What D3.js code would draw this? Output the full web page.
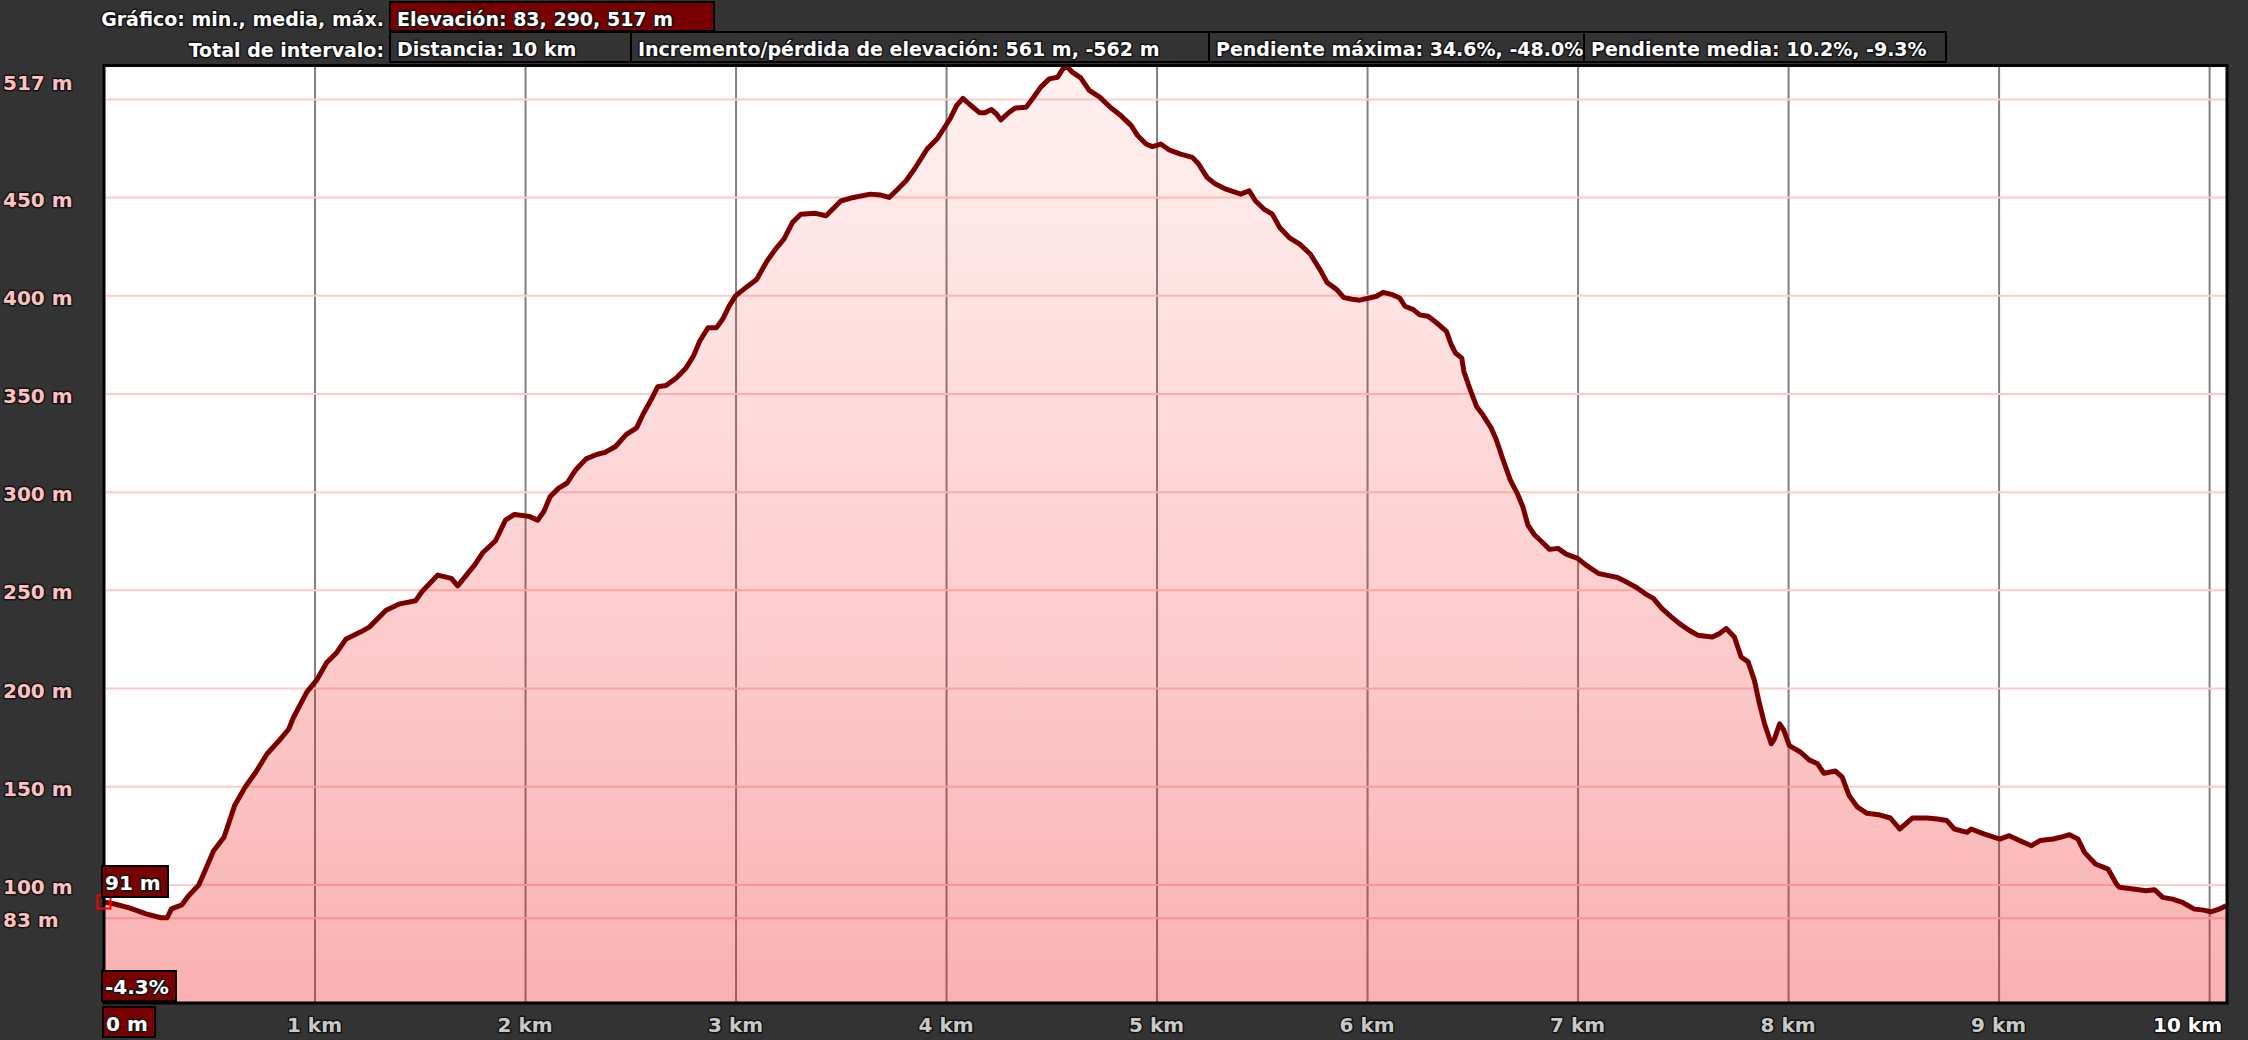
<!DOCTYPE html>
<html>
<head>
<meta charset="utf-8">
<script src="https://cdn.jsdelivr.net/npm/d3@7/dist/d3.min.js"></script>
<style>
  html, body { margin: 0; padding: 0; background: #333333; }
  svg { display: block; }
  text { font-family: "DejaVu Sans", Verdana, sans-serif; font-weight: bold; }
  .outlined { paint-order: stroke; stroke: #141414; stroke-width: 3px; stroke-linejoin: round; }
</style>
</head>
<body>
<svg id="chart" width="2248" height="1040"></svg>
<script>
// ---------- data ----------
const distanceKm = [
  0.00,0.05,0.12,0.20,0.27,0.30,0.32,0.37,0.40,0.45,0.48,0.52,0.57,0.62,0.67,0.72,0.775,0.83,0.877,0.90,
  0.964,1.01,1.058,1.105,1.15,1.22,1.26,1.34,1.40,1.48,1.51,1.585,1.65,1.68,1.76,1.80,1.86,1.907,1.95,2.02,
  2.06,2.09,2.12,2.16,2.20,2.24,2.29,2.34,2.38,2.43,2.48,2.53,2.56,2.60,2.63,2.67,2.72,2.765,2.80,2.83,
  2.87,2.91,2.94,2.97,3.00,3.05,3.10,3.15,3.19,3.23,3.27,3.31,3.38,3.43,3.50,3.56,3.64,3.69,3.73,3.77,
  3.81,3.85,3.91,3.96,4.02,4.05,4.08,4.11,4.16,4.185,4.215,4.24,4.26,4.30,4.33,4.38,4.41,4.45,4.49,4.53,
  4.55,4.57,4.60,4.64,4.68,4.73,4.78,4.83,4.88,4.91,4.95,4.98,5.02,5.06,5.11,5.17,5.20,5.24,5.28,5.33,
  5.40,5.44,5.47,5.51,5.55,5.585,5.63,5.68,5.73,5.78,5.81,5.855,5.89,5.93,5.965,6.01,6.045,6.076,6.12,6.155,
  6.18,6.22,6.25,6.29,6.33,6.377,6.40,6.42,6.45,6.46,6.49,6.52,6.55,6.59,6.614,6.646,6.68,6.717,6.74,6.764,
  6.796,6.83,6.867,6.907,6.946,7.00,7.04,7.10,7.136,7.19,7.23,7.28,7.32,7.36,7.40,7.445,7.484,7.53,7.57,7.64,
  7.674,7.706,7.745,7.777,7.81,7.84,7.864,7.888,7.92,7.935,7.96,7.98,8.006,8.06,8.10,8.14,8.17,8.225,8.257,8.29,
  8.33,8.375,8.43,8.486,8.53,8.59,8.66,8.71,8.754,8.79,8.85,8.87,8.93,9.006,9.05,9.10,9.156,9.196,9.26,9.306,
  9.337,9.377,9.408,9.46,9.52,9.56,9.574,9.64,9.70,9.74,9.78,9.826,9.874,9.93,9.976,10.008,10.047,10.08
];
const elevationM = [
  91,90,88,85,83,83,87.5,89.6,94,99.7,107,117,124,140,149.5,157,166.5,173,179,185,
  198,204,213,218,225,228.6,231,239.6,242.7,244.4,249,257.5,255.8,252,262.6,269,275,285.5,288.4,287.4,
  285.4,290,297.6,301.8,304.4,311,316.7,318.9,320,323,329,332.5,339.3,347,353.4,354,358,363,369,376.7,
  383.5,383.5,388,394.6,399.7,404,408,417.5,423.5,428.6,437,441.3,441.7,440.5,448,449.8,451.5,451,449.8,454,
  458.3,464.3,474.5,480,490,496.6,500.3,497.4,492.9,492.9,494.6,492.3,489.3,493.2,495.4,495.7,500,506,510.2,511,
  514.5,517,513.6,510.7,504.3,500.9,495.7,491.5,486.4,481.3,477,475.7,477,474,472,470.2,466.8,460,456.6,454,
  451.5,453.2,448,443.9,441.3,434.5,429.4,426,421,412.4,406.5,403,398.8,398,397.5,398.6,399.5,401.5,400.3,398.6,
  394.4,392.7,390,389.3,386,381.6,374.8,370.6,368,361.2,351.9,343.4,339.1,332.3,326.4,316.2,306,298.3,292.3,283,
  277.9,274.5,270.6,271.1,268.2,266,262.6,258.3,257.5,256.3,254.1,251.2,248.1,245.6,240.5,236.2,232.8,229.4,226.9,226,
  227.7,230.3,226,215.8,213.3,203.9,192,181.8,171.6,174.1,181.8,178.4,170.7,167.3,163.4,161.4,156.6,157.7,154.6,145.2,
  139.3,136.2,135.5,133.8,128.2,133.8,133.8,133.3,132.5,128.2,126.5,128.2,125.7,123.1,124.8,122.3,119.7,122.3,123.1,124.3,
  125.3,123.1,116.3,110.4,107.8,100.2,98.5,97.6,96.8,97.3,93.4,92.5,90.8,87.4,86.9,86,87.4,89.1
];
const xTickValues = [0,1,2,3,4,5,6,7,8,9,10];
const xTickLabels = ["0 m","1 km","2 km","3 km","4 km","5 km","6 km","7 km","8 km","9 km","10 km"];
const yGridValues = [83,100,150,200,250,300,350,400,450,500];
const yTickValues = [100,150,200,250,300,350,400,450];
const yTickLabels = ["100 m","150 m","200 m","250 m","300 m","350 m","400 m","450 m"];
const minLabel = "83 m";
const maxLabel = "517 m";
const elevMin = 83, elevMax = 517, totalKm = 10.085;
const headerRow1Title = "Gráfico: min., media, máx.";
const headerRow1Boxes = ["Elevación: 83, 290, 517 m"];
const headerRow2Title = "Total de intervalo:";
const headerRow2Boxes = ["Distancia: 10 km","Incremento/pérdida de elevación: 561 m, -562 m","Pendiente máxima: 34.6%, -48.0%","Pendiente media: 10.2%, -9.3%"];
const markerElevLabel = "91 m";
const markerGradeLabel = "-4.3%";

// ---------- layout ----------
const svg = d3.select("#chart");
const L = 104, R = 2227, T = 65.5, B = 1003;
const x = d3.scaleLinear().domain([0, totalKm]).range([L, R]);
const yPad = (elevMax - elevMin) * 0.1;
const y = d3.scaleLinear().domain([elevMin - yPad, elevMax]).range([B, T]);

const data = distanceKm.map((d, i) => ({d, e: elevationM[i]}));

// plot background
svg.append("rect").attr("x", L).attr("y", T).attr("width", R - L).attr("height", B - T).attr("fill", "#ffffff");

// gridlines via axes
const gx = svg.append("g").attr("transform", `translate(0,${B})`)
  .call(d3.axisBottom(x).tickValues(xTickValues.slice(1)).tickSize(-(B - T)).tickFormat(""));
gx.select(".domain").remove();
gx.selectAll("line").attr("stroke", "#808080").attr("stroke-width", 2);

const gy = svg.append("g").attr("transform", `translate(${L},0)`)
  .call(d3.axisLeft(y).tickValues(yGridValues).tickSize(-(R - L)).tickFormat(""));
gy.select(".domain").remove();
gy.selectAll("line").attr("stroke", "#ffcaca").attr("stroke-width", 2);

// gradient fill
const defs = svg.append("defs");
const grad = defs.append("linearGradient").attr("id", "areaGrad")
  .attr("gradientUnits", "userSpaceOnUse").attr("x1", 0).attr("x2", 0).attr("y1", T).attr("y2", B);
grad.append("stop").attr("offset", "0%").attr("stop-color", "#ff3030").attr("stop-opacity", 0.07);
grad.append("stop").attr("offset", "100%").attr("stop-color", "#ee1010").attr("stop-opacity", 0.33);

const area = d3.area().x(p => x(p.d)).y0(B).y1(p => y(p.e));
svg.append("path").datum(data).attr("d", area).attr("fill", "url(#areaGrad)");

const line = d3.line().x(p => x(p.d)).y(p => y(p.e));
svg.append("path").datum(data).attr("d", line).attr("fill", "none")
  .attr("stroke", "#7a0000").attr("stroke-width", 5).attr("stroke-linejoin", "round");

// plot border
svg.append("rect").attr("x", L).attr("y", T).attr("width", R - L).attr("height", B - T)
  .attr("fill", "none").attr("stroke", "#000").attr("stroke-width", 3);

// y labels
svg.selectAll(".ylab").data(yTickValues).enter().append("text")
  .attr("class", "outlined").attr("x", 3).attr("y", v => y(v) + 9.5)
  .attr("font-size", 20).attr("fill", "#ffc0c0").text((v, i) => yTickLabels[i]);
svg.append("text").attr("class", "outlined").attr("x", 3).attr("y", Math.max(y(elevMax) + 9.5, T + 24.5))
  .attr("font-size", 20).attr("fill", "#ffc0c0").text(maxLabel);
svg.append("text").attr("class", "outlined").attr("x", 3).attr("y", y(elevMin) + 9)
  .attr("font-size", 20).attr("fill", "#ffc0c0").text(minLabel);

// x labels
xTickValues.forEach((v, i) => {
  if (i === 0) {
    svg.append("rect").attr("x", x(v) - 1).attr("y", 1007).attr("width", 52).attr("height", 30)
      .attr("fill", "#780000").attr("stroke", "#000").attr("stroke-width", 2);
    svg.append("text").attr("class", "outlined").attr("x", x(v) + 2).attr("y", 1031)
      .attr("font-size", 20).attr("fill", "#fff").text(xTickLabels[i]);
  } else if (i === xTickValues.length - 1) {
    svg.append("text").attr("class", "outlined").attr("x", R - 5).attr("y", 1032)
      .attr("text-anchor", "end").attr("font-size", 20).attr("fill", "#ffffff").text(xTickLabels[i]);
  } else {
    svg.append("text").attr("class", "outlined").attr("x", x(v)).attr("y", 1032)
      .attr("text-anchor", "middle").attr("font-size", 20).attr("fill", "#c8c8c8").text(xTickLabels[i]);
  }
});

// marker at start
const mx = x(distanceKm[0]), my = y(elevationM[0]);
svg.append("rect").attr("x", mx - 6.5).attr("y", my - 6.5).attr("width", 13).attr("height", 13)
  .attr("fill", "none").attr("stroke", "#ff0000").attr("stroke-width", 2);
svg.append("rect").attr("x", L - 2).attr("y", 866).attr("width", 66).attr("height", 31)
  .attr("fill", "#780000").attr("stroke", "#000").attr("stroke-width", 2);
svg.append("text").attr("class", "outlined").attr("x", L + 1).attr("y", 890)
  .attr("font-size", 20).attr("fill", "#fff").text(markerElevLabel);
svg.append("rect").attr("x", L - 2).attr("y", 971).attr("width", 74).attr("height", 30)
  .attr("fill", "#780000").attr("stroke", "#000").attr("stroke-width", 2);
svg.append("text").attr("class", "outlined").attr("x", L + 1).attr("y", 994)
  .attr("font-size", 20).attr("fill", "#fff").text(markerGradeLabel);

// header
const hdrFont = 19;
svg.append("text").attr("class", "outlined").attr("x", 384).attr("y", 26).attr("text-anchor", "end")
  .attr("font-size", hdrFont).attr("fill", "#fff").text(headerRow1Title);
svg.append("text").attr("class", "outlined").attr("x", 384).attr("y", 57).attr("text-anchor", "end")
  .attr("font-size", hdrFont).attr("fill", "#fff").text(headerRow2Title);

function boxRow(labels, widths, y0, h, fill) {
  let cx = 390;
  labels.forEach((lbl, i) => {
    const g = svg.append("g");
    g.append("rect").attr("x", cx).attr("y", y0).attr("width", widths[i]).attr("height", h).attr("fill", fill)
      .attr("stroke", "#000").attr("stroke-width", 2);
    g.append("text").attr("class", "outlined").attr("x", cx + 7).attr("y", y0 + 24)
      .attr("font-size", hdrFont).attr("fill", "#fff").text(lbl);
    cx += widths[i];
  });
}
boxRow(headerRow1Boxes, [324], 2, 29, "#780000");
boxRow(headerRow2Boxes, [241, 578, 375, 362], 32, 30, "#333333");
</script>
</body>
</html>
